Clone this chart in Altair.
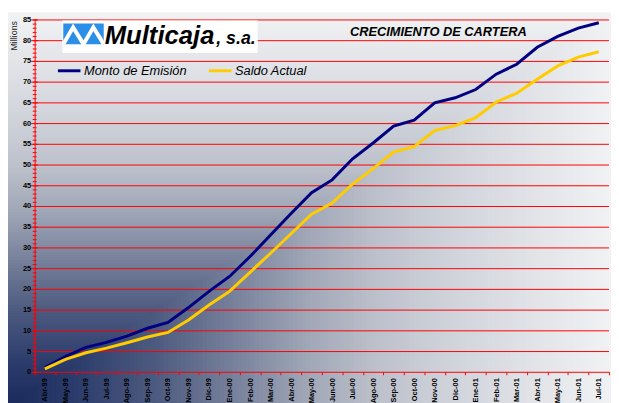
import altair as alt
import pandas as pd
import numpy as np

# ---------------- data ----------------
months = ["Abr-99", "May-99", "Jun-99", "Jul-99", "Ago-99", "Sep-99", "Oct-99",
          "Nov-99", "Dic-99", "Ene-00", "Feb-00", "Mar-00", "Abr-00", "May-00",
          "Jun-00", "Jul-00", "Ago-00", "Sep-00", "Oct-00", "Nov-00", "Dic-00",
          "Ene-01", "Feb-01", "Mar-01", "Abr-01", "May-01", "Jun-01", "Jul-01"]
monto_emision = [1.0, 3.7, 5.9, 7.1, 8.6, 10.5, 11.9, 15.5, 19.4, 23.0, 27.8, 33.0,
                 38.2, 43.2, 46.3, 51.4, 55.2, 59.3, 60.7, 64.9, 66.1, 68.1, 71.8,
                 74.2, 78.3, 80.9, 82.9, 84.2]
saldo_actual = [0.7, 3.0, 4.6, 5.7, 7.0, 8.4, 9.5, 12.5, 16.1, 19.4, 24.0, 28.6,
                33.3, 38.0, 40.7, 45.3, 49.0, 53.0, 54.3, 58.2, 59.4, 61.3, 65.1,
                67.2, 70.6, 73.8, 75.9, 77.2]
series_names = ["Monto de Emisión", "Saldo Actual"]
series_colors = ["#000080", "#ffcc00"]
y_ticks = list(range(0, 90, 5))
y_minor = list(range(0, 86))
title_text = "CRECIMIENTO DE CARTERA"
logo_main = "Multicaja"
logo_suffix = ", s.a."

FONT = "Liberation Sans"
W, H = 582, 357
PAD_TOP = 9

df = pd.DataFrame({
    "Mes": months * 2,
    "Valor": monto_emision + saldo_actual,
    "Serie": [series_names[0]] * len(months) + [series_names[1]] * len(months),
})

# ---------------- background (corner gradient) ----------------
grad_stops_d = [0, 0.1, 0.25, 0.38, 0.5, 0.62, 0.75, 0.88, 1.0]
grad_stops_c = ["#1a2b5b", "#28396a", "#4e5b80", "#78829c", "#a0a7b7",
                "#bec2cc", "#d2d5dc", "#e2e4e8", "#f1f2f4"]


def hex2rgb(h):
    return [int(h[i:i + 2], 16) for i in (1, 3, 5)]


rgb = np.array([hex2rgb(c) for c in grad_stops_c], dtype=float)
N = 140
steps = np.linspace(1.0, 1.0 / N, N)
cols = []
for d in steps:
    r, g, b = (np.interp(d, grad_stops_d, rgb[:, k]) for k in range(3))
    cols.append("#%02x%02x%02x" % (int(round(r)), int(round(g)), int(round(b))))
bg_df = pd.DataFrame({"d": steps, "col": cols})

BX0, BW = -27, 613
BY1, BH = 392, 399

bg = alt.Chart(bg_df).transform_calculate(
    bx1=str(BX0), bx2=f"{BX0} + datum.d * {BW}",
    by1=f"{BY1} - datum.d * {BH}", by2=str(BY1)
).mark_rect(strokeWidth=0).encode(
    x=alt.X("bx1:Q", scale=None, axis=None),
    x2="bx2:Q",
    y=alt.Y("by1:Q", scale=None, axis=None),
    y2="by2:Q",
    fill=alt.Fill("col:N", scale=None, legend=None),
)

# ---------------- main chart ----------------
yscale = alt.Scale(domain=[0, 85], nice=False, zero=True)
xscale = alt.Scale(type="band", domain=months, paddingInner=0, paddingOuter=0)

y_axis = alt.Axis(orient="left", values=y_ticks, title="Millions", titleAngle=270,
                  titleX=-21, titleY=1, titleAlign="right",
                  titleBaseline="middle", titleFontSize=9,
                  titleFontWeight="normal", titleFont=FONT, titleColor="#222222",
                  labelFontSize=7.5, labelFontWeight="bold", labelFont=FONT,
                  labelColor="black", labelPadding=4, ticks=False,
                  domainColor="#ff0000", grid=False, zindex=1)
x_axis = alt.Axis(orient="bottom", title=None, labelAngle=270, labelFontSize=7.5,
                  labelFontWeight="bold", labelFont=FONT, labelColor="black",
                  labelPadding=3, tickSize=3, tickColor="#ff0000",
                  domainColor="#ff0000", tickBand="extent", labelOverlap=False,
                  grid=False, zindex=1)

grid = alt.Chart(pd.DataFrame({"Valor": y_ticks[1:]})).mark_rule(
    color="#ff0000", strokeWidth=1, yOffset=0.5
).encode(
    y=alt.Y("Valor:Q", scale=yscale, axis=y_axis),
    x=alt.value(0), x2=alt.value(W),
)

minor = alt.Chart(pd.DataFrame({"Valor": y_minor})).mark_rule(
    color="#ff0000", strokeWidth=1, yOffset=0.5
).encode(
    y=alt.Y("Valor:Q", scale=yscale, axis=y_axis),
    x=alt.value(-2), x2=alt.value(2),
)
major = alt.Chart(pd.DataFrame({"Valor": y_ticks})).mark_rule(
    color="#ff0000", strokeWidth=1, yOffset=0.5
).encode(
    y=alt.Y("Valor:Q", scale=yscale, axis=y_axis),
    x=alt.value(-3.5), x2=alt.value(3.5),
)

lines = alt.Chart(df).mark_line(strokeWidth=3).encode(
    x=alt.X("Mes:N", sort=months, scale=xscale, bandPosition=0.5, axis=x_axis),
    y=alt.Y("Valor:Q", scale=yscale, axis=y_axis),
    color=alt.Color("Serie:N", sort=series_names,
                    scale=alt.Scale(domain=series_names, range=series_colors),
                    legend=alt.Legend(title=None, orient="none", legendX=22, legendY=39,
                                      direction="horizontal", symbolType="stroke",
                                      symbolSize=520, symbolStrokeWidth=3,
                                      labelFontSize=13, labelFontStyle="italic",
                                      labelFont=FONT, labelColor="black",
                                      columnPadding=15, labelOffset=2, padding=0)),
    detail="Serie:N",
)

main = alt.layer(grid, minor, major, lines)

# ---------------- decorations: logo and title ----------------
one = pd.DataFrame({"a": [0]})
logo_box = alt.Chart(one).mark_rect(color="white").encode(
    x=alt.value(28), x2=alt.value(226), y=alt.value(1), y2=alt.value(34))
icon_box = alt.Chart(one).mark_rect(color="#2b8fe8").encode(
    x=alt.value(29), x2=alt.value(70), y=alt.value(4), y2=alt.value(25))
icon_path = pd.DataFrame({"px": [29, 39, 49.5, 59.5, 70], "py": [25, 8, 25, 8, 25]})
icon_zig = alt.Chart(icon_path).mark_line(color="white", strokeWidth=4).encode(
    x=alt.X("px:Q", scale=None, axis=None),
    y=alt.Y("py:Q", scale=None, axis=None),
)
logo_t1 = alt.Chart(pd.DataFrame({"t": [logo_main]})).mark_text(
    font=FONT, fontSize=26, fontWeight="bold", fontStyle="italic",
    align="left", baseline="alphabetic", color="black"
).encode(x=alt.value(71), y=alt.value(25), text="t:N")
logo_t2 = alt.Chart(pd.DataFrame({"t": [logo_suffix]})).mark_text(
    font=FONT, fontSize=18, fontWeight="bold", fontStyle="italic",
    align="left", baseline="alphabetic", color="black"
).encode(x=alt.value(184), y=alt.value(25), text="t:N")
title = alt.Chart(pd.DataFrame({"t": [title_text]})).mark_text(
    font=FONT, fontSize=13, fontWeight="bold", fontStyle="italic",
    align="center", baseline="middle", color="black"
).encode(x=alt.value(409), y=alt.value(13), text="t:N")

deco = alt.layer(logo_box, icon_box, icon_zig, logo_t1, logo_t2, title)

chart = alt.layer(bg, main, deco).resolve_scale(
    x="independent", y="independent", fill="independent"
).properties(
    width=W, height=H,
    padding={"left": 27, "top": PAD_TOP, "right": 2, "bottom": 395 - PAD_TOP - H},
    autosize=alt.AutoSizeParams(type="none"),
    background="white",
).configure_view(stroke=None)

chart.save("out.html", embed_options={"renderer": "svg", "actions": False})
